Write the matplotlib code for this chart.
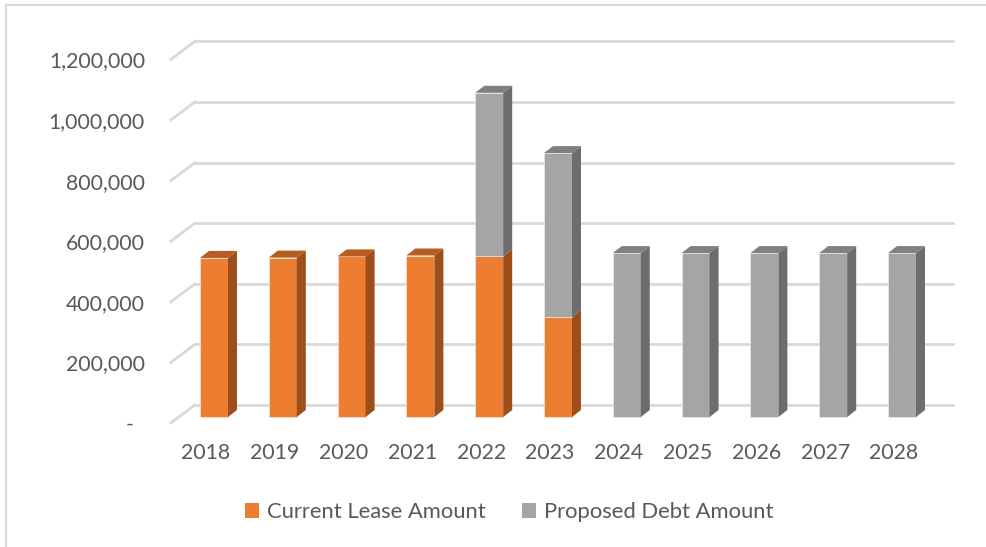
import numpy as np
import matplotlib.pyplot as plt
from matplotlib.patches import Polygon, Rectangle
from matplotlib.lines import Line2D
from matplotlib.patches import Patch

plt.rcParams['font.family'] = ['Lato', 'DejaVu Sans']

years = ['2018', '2019', '2020', '2021', '2022', '2023',
         '2024', '2025', '2026', '2027', '2028']
current_lease = [525000, 526000, 530000, 533000, 530000, 330000,
                 0, 0, 0, 0, 0]
proposed_debt = [0, 0, 0, 0, 540000, 541000,
                 541000, 541000, 541000, 541000, 541000]
y_ticks = [0, 200000, 400000, 600000, 800000, 1000000, 1200000]
y_tick_labels = ['-  ', '200,000', '400,000', '600,000', '800,000',
                 '1,000,000', '1,200,000']
series_names = ['Current Lease Amount', 'Proposed Debt Amount']

# face colours: front, side, top
orange = ('#ED7D31', '#9C4F1C', '#B65D22')
gray = ('#A5A5A5', '#6D6D6D', '#808080')
text_color = '#595959'
grid_color = '#D9D9D9'

W, H = 987, 547
fig = plt.figure(figsize=(W / 100, H / 100), dpi=100)

# axes placed in pixels; data plane = front face of the bars
ax_left, ax_right, ax_top, ax_bottom = 150, 960, 40, 430
ax = fig.add_axes([ax_left / W, 1 - ax_bottom / H,
                   (ax_right - ax_left) / W, (ax_bottom - ax_top) / H])
ax.set_axis_off()

x0_px, step_px = 214.0, 68.8        # first category centre, spacing
zero_px, px_per_tick = 417.0, 60.6  # y pixel of 0, pixels per 200k
vpp = 200000 / px_per_tick
ax.set_xlim((ax_left - x0_px) / step_px, (ax_right - x0_px) / step_px)
ax.set_ylim(-(ax_bottom - zero_px) * vpp, (zero_px - ax_top) * vpp)


def off(x, y, ox, oy):
    """shift a data point by (ox, oy) pixels (oy positive = up)"""
    return (x + ox / step_px, y + oy * vpp)


bar_w = 28 / step_px
depth = (9, 7)         # bar depth offset in pixels
back = (16, 12)        # back wall offset from bar plane
front = (-8, -6)       # floor front edge offset from bar plane
wall_x0, wall_x1 = -0.51, 10.51

# gridlines on the back wall plus the slanted side-wall lines
for v in y_ticks:
    a = off(wall_x0, v, *back)
    b = off(wall_x1, v, *back)
    ax.add_line(Line2D([a[0], b[0]], [a[1], b[1]], color=grid_color,
                       lw=2, clip_on=False, zorder=1))
    c = off(wall_x0, v, *front)
    ax.add_line(Line2D([c[0], a[0]], [c[1], a[1]], color=grid_color,
                       lw=2, clip_on=False, zorder=1))

x = np.arange(len(years))


def draw_segment(xc, bottom, height, cols, top_face):
    if height <= 0:
        return
    l, r = xc - bar_w / 2, xc + bar_w / 2
    t = bottom + height
    ax.bar(xc, height, bar_w, bottom=bottom, color=cols[0],
           edgecolor='#F2F2F2', linewidth=0.4, zorder=3)
    side = [(r, bottom), off(r, bottom, *depth), off(r, t, *depth), (r, t)]
    ax.add_patch(Polygon(side, closed=True, facecolor=cols[1],
                         edgecolor='none', zorder=3))
    if top_face:
        top = [(l, t), off(l, t, *depth), off(r, t, *depth), (r, t)]
        ax.add_patch(Polygon(top, closed=True, facecolor=cols[2],
                             edgecolor='none', zorder=3))


for i in x:
    cl, pd = current_lease[i], proposed_debt[i]
    draw_segment(i, 0, cl, orange, pd <= 0)
    draw_segment(i, cl, pd, gray, True)

# value axis labels
for v, lab in zip(y_ticks, y_tick_labels):
    p = off(wall_x0, v, *front)
    xt = (145 - x0_px) / step_px
    ax.text(xt, p[1] - 2 * vpp, lab, ha='right', va='center',
            fontsize=15.3, color=text_color, clip_on=False)

# category labels
for i, yr in zip(x, years):
    p = off(i, 0, *front)
    ax.text(p[0], p[1] - 30 * vpp, yr, ha='center', va='center',
            fontsize=15.3, color=text_color, clip_on=False)

handles = [Patch(facecolor=orange[0], edgecolor='none'),
           Patch(facecolor=gray[0], edgecolor='none')]
fig.legend(handles, series_names, loc='center', ncol=2,
           bbox_to_anchor=(509 / W, 1 - 512 / H), frameon=False,
           fontsize=15.8, labelcolor=text_color, handlelength=0.65,
           handleheight=0.65, handletextpad=0.35, columnspacing=1.65)

# chart border
fig.patches.append(Rectangle((6 / W, -0.01), 1.0, 1 - 5 / H + 0.01,
                             transform=fig.transFigure, fill=False,
                             edgecolor=grid_color, lw=1.5))

fig.savefig('out.png', dpi=100, facecolor='white')
